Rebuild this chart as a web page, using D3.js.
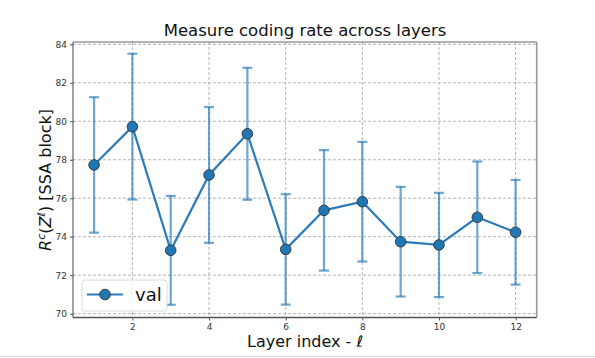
<!DOCTYPE html>
<html><head><meta charset="utf-8">
<script src="https://cdn.jsdelivr.net/npm/d3@7"></script>
<style>body{margin:0;background:#fff}svg{display:block}text{font-family:"DejaVu Sans",sans-serif}</style>
</head><body>
<script>
const layers = [1,2,3,4,5,6,7,8,9,10,11,12];
const values = [77.73,79.72,73.29,77.21,79.35,73.34,75.37,75.82,73.74,73.57,75.01,74.23];
const errors = [3.52,3.79,2.83,3.53,3.43,2.87,3.13,3.11,2.85,2.71,2.9,2.72];
const xTicks = [2,4,6,8,10,12];
const yTicks = [70,72,74,76,78,80,82,84];
const seriesName = "val";

const W=595,H=358;
const m={l:73,r:536.7,t:42,b:317.5};
const svg=d3.select("body").append("svg").attr("width",W).attr("height",H);
const x=d3.scaleLinear().domain([0.45,12.55]).range([m.l,m.r]);
const y=d3.scaleLinear().domain([69.8,84.12]).range([m.b,m.t]);

// grid
const g=svg.append("g");
g.selectAll(".gx").data(xTicks).join("line").attr("x1",d=>x(d)).attr("x2",d=>x(d)).attr("y1",m.t).attr("y2",m.b)
 .attr("stroke","#a0a0a0").attr("stroke-width",0.8).attr("stroke-dasharray","3,2");
g.selectAll(".gy").data(yTicks).join("line").attr("y1",d=>y(d)).attr("y2",d=>y(d)).attr("x1",m.l).attr("x2",m.r)
 .attr("stroke","#a0a0a0").attr("stroke-width",0.8).attr("stroke-dasharray","3,2");

// axes
const xa=svg.append("g").attr("transform",`translate(0,${m.b})`).call(d3.axisBottom(x).tickValues(xTicks).tickSize(3).tickPadding(3));
const ya=svg.append("g").attr("transform",`translate(${m.l},0)`).call(d3.axisLeft(y).tickValues(yTicks).tickSize(3).tickPadding(3));
[xa,ya].forEach(a=>{a.select(".domain").remove();a.selectAll("text").attr("font-size",9).attr("fill","#333").attr("font-family","DejaVu Sans");a.selectAll("line").attr("stroke","#555");});

// frame
svg.append("line").attr("x1",m.l).attr("x2",m.r).attr("y1",m.t).attr("y2",m.t).attr("stroke","#666").attr("stroke-width",1);
svg.append("line").attr("x1",m.r).attr("x2",m.r).attr("y1",m.t).attr("y2",m.b).attr("stroke","#999").attr("stroke-width",1.6);
svg.append("line").attr("x1",m.l).attr("x2",m.r).attr("y1",m.b).attr("y2",m.b).attr("stroke","#555").attr("stroke-width",1.4);
svg.append("line").attr("x1",m.l).attr("x2",m.l).attr("y1",m.t).attr("y2",m.b).attr("stroke","#444").attr("stroke-width",1);

// error bars
const data=layers.map((l,i)=>({l,v:values[i],e:errors[i]}));
const eb=svg.append("g").attr("stroke","#1f77b4").attr("stroke-opacity",0.65).attr("stroke-width",2.2);
eb.selectAll(".v").data(data).join("line").attr("x1",d=>x(d.l)).attr("x2",d=>x(d.l)).attr("y1",d=>y(d.v-d.e)).attr("y2",d=>y(d.v+d.e));
eb.selectAll(".c1").data(data).join("line").attr("x1",d=>x(d.l)-5).attr("x2",d=>x(d.l)+5).attr("y1",d=>y(d.v+d.e)).attr("y2",d=>y(d.v+d.e));
eb.selectAll(".c2").data(data).join("line").attr("x1",d=>x(d.l)-5).attr("x2",d=>x(d.l)+5).attr("y1",d=>y(d.v-d.e)).attr("y2",d=>y(d.v-d.e));

// line
svg.append("path").datum(data).attr("d",d3.line().x(d=>x(d.l)).y(d=>y(d.v))).attr("fill","none").attr("stroke","#2b7bba").attr("stroke-width",2.2);
svg.append("g").selectAll("circle").data(data).join("circle").attr("cx",d=>x(d.l)).attr("cy",d=>y(d.v)).attr("r",5.3)
 .attr("fill","#1f77b4").attr("stroke","#333").attr("stroke-width",0.9);

// legend
const lg=svg.append("g");
lg.append("rect").attr("x",82).attr("y",280).attr("width",85).attr("height",31).attr("rx",3).attr("fill","#fff").attr("fill-opacity",0.8).attr("stroke","#dcdcdc");
lg.append("line").attr("x1",87).attr("x2",123).attr("y1",294.5).attr("y2",294.5).attr("stroke","#2b7bba").attr("stroke-width",2.2);
lg.append("circle").attr("cx",105).attr("cy",294.5).attr("r",5.3).attr("fill","#1f77b4").attr("stroke","#333").attr("stroke-width",0.9);
lg.append("text").attr("x",135).attr("y",301).attr("font-size",18).attr("fill","#111").text(seriesName);

// titles
svg.append("text").attr("x",305).attr("y",36).attr("text-anchor","middle").attr("font-size",16.5).attr("fill","#111").text("Measure coding rate across layers");
const xl=svg.append("text").attr("x",305).attr("y",347).attr("text-anchor","middle").attr("font-size",16).attr("fill","#111");
xl.append("tspan").text("Layer index - ");
xl.append("tspan").attr("font-style","italic").text("ℓ");
const yl=svg.append("text").attr("transform","translate(51,180) rotate(-90)").attr("text-anchor","middle").attr("font-size",16).attr("fill","#111");
yl.append("tspan").attr("font-style","italic").text("R");
yl.append("tspan").attr("font-size",11).attr("dy",-6).attr("font-style","italic").text("c");
yl.append("tspan").attr("dy",6).text("(");
yl.append("tspan").attr("font-style","italic").text("Z");
yl.append("tspan").attr("font-size",11).attr("dy",-6).attr("font-style","italic").text("ℓ");
yl.append("tspan").attr("dy",6).text(") [SSA block]");

// bottom border
svg.append("line").attr("x1",0).attr("x2",W).attr("y1",356.5).attr("y2",356.5).attr("stroke","#ddd").attr("stroke-width",1);
</script>
</body></html>
